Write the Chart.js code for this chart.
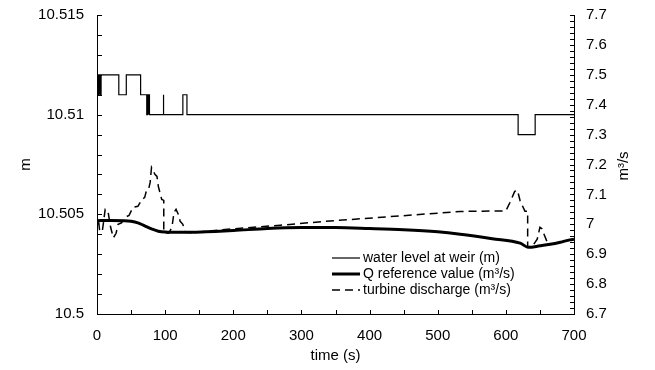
<!DOCTYPE html>
<html>
<head>
<meta charset="utf-8">
<script src="https://cdn.jsdelivr.net/npm/chart.js@4.4.1/dist/chart.umd.min.js"></script>
<style>
  html, body { margin: 0; padding: 0; background: #fff; }
</style>
</head>
<body>
<canvas id="chart" width="655" height="370"></canvas>
<script>
// water level at weir (m) - stepped, vertical jumps written as repeated times
const levelTime = [0, 0, 1, 1, 2, 2, 3, 3, 4, 4, 5, 5, 6, 6, 32, 32, 43, 43, 64, 64,
  73, 73, 74, 74, 75, 75, 76, 76, 77, 77, 97, 97, 98, 98, 126, 126, 132, 132, 618, 618, 643, 643, 700];
const levelValue = [10.511, 10.512, 10.512, 10.511, 10.511, 10.512, 10.512, 10.511, 10.511, 10.512,
  10.512, 10.511, 10.511, 10.512, 10.512, 10.511, 10.511, 10.512, 10.512, 10.511,
  10.511, 10.510, 10.510, 10.511, 10.511, 10.510, 10.510, 10.511, 10.511, 10.510,
  10.510, 10.511, 10.511, 10.510, 10.510, 10.511, 10.511, 10.510, 10.510, 10.509, 10.509, 10.510, 10.510];

// Q reference value (m3/s)
const qTime = [0, 20, 40, 50, 60, 70, 80, 90, 100, 120, 140, 160, 200, 250, 300, 350, 400, 450,
  500, 533, 580, 621, 633, 650, 665, 680, 694, 700];
const qValue = [7.012, 7.013, 7.012, 7.010, 7.005, 6.995, 6.985, 6.977, 6.974, 6.973, 6.973, 6.975,
  6.979, 6.986, 6.989, 6.989, 6.986, 6.982, 6.975, 6.967, 6.952, 6.937, 6.923, 6.928, 6.933, 6.940, 6.948, 6.950];

// turbine discharge (m3/s)
const turbTime = [0, 2, 4, 8, 12, 16, 20, 24, 28, 31, 36, 41, 47, 53, 60, 66, 70, 73, 76, 78,
  80, 85, 88, 90, 95, 98, 98, 105, 110, 113, 116, 120, 122, 126, 129, 140, 200, 269, 342, 445,
  533, 600, 606, 613, 617, 621, 628, 632, 632, 640, 646, 650, 653, 656, 662, 670, 680, 700];
const turbValue = [6.99, 7.02, 6.975, 6.98, 7.05, 7.045, 6.99, 6.955, 6.97, 7.0, 7.005, 7.023, 7.03, 7.057, 7.06, 7.083, 7.09, 7.117, 7.12, 7.14,
  7.19, 7.167, 7.16, 7.127, 7.083, 7.08, 6.973, 6.97, 6.99, 7.04, 7.05, 7.03, 7.01, 7.0, 6.973, 6.972, 6.985, 6.997, 7.011, 7.028,
  7.043, 7.045, 7.073, 7.11, 7.114, 7.078, 7.044, 7.044, 6.923, 6.93, 6.95, 6.99, 6.985, 6.967, 6.933, 6.935, 6.94, 6.95];

const seriesNames = ['water level at weir (m)', 'Q reference value (m³/s)', 'turbine discharge (m³/s)'];

// tick labels
const xTicks = [0, 100, 200, 300, 400, 500, 600, 700];
const leftTicks = [10.5, 10.505, 10.51, 10.515];
const rightTicks = [6.7, 6.8, 6.9, 7.0, 7.1, 7.2, 7.3, 7.4, 7.5, 7.6, 7.7];

const FONT = "'Liberation Sans', Arial, sans-serif";
Chart.defaults.color = '#000';
Chart.defaults.font.family = FONT;
Chart.defaults.font.size = 15;

const pts = (xs, ys) => xs.map((x, i) => ({ x: x, y: ys[i] }));

// inward minor ticks, legend inside the plot, right axis title
const extras = {
  id: 'extras',
  afterDatasetsDraw(chart) {
    const { ctx, chartArea: a, scales: { x, yL, yR } } = chart;
    ctx.save();
    ctx.strokeStyle = '#000';
    ctx.lineWidth = 1;
    ctx.beginPath();
    for (let t = 0; t <= 700; t += 50) {
      const px = Math.round(x.getPixelForValue(t)) + 0.5;
      ctx.moveTo(px, a.bottom); ctx.lineTo(px, a.bottom - 4);
    }
    for (let i = 0; i <= 15; i++) {
      const py = Math.round(yL.getPixelForValue(10.5 + i * 0.001)) + 0.5;
      ctx.moveTo(a.left, py); ctx.lineTo(a.left + 5, py);
    }
    for (let i = 0; i <= 50; i++) {
      const py = Math.round(yR.getPixelForValue(6.7 + i * 0.02)) + 0.5;
      ctx.moveTo(a.right, py); ctx.lineTo(a.right - 4, py);
    }
    ctx.stroke();

    // legend
    ctx.font = '14px ' + FONT;
    ctx.fillStyle = '#000';
    ctx.textBaseline = 'middle';
    ctx.textAlign = 'left';
    chart.data.datasets.forEach((ds, i) => {
      const y = 258 + i * 16;
      ctx.beginPath();
      ctx.lineWidth = ds.borderWidth;
      ctx.setLineDash(ds.borderDash || []);
      ctx.moveTo(332, y); ctx.lineTo(360, y);
      ctx.stroke();
      ctx.setLineDash([]);
      ctx.fillText(ds.label, 363, y);
    });

    // right axis title, reads bottom to top
    ctx.font = '15px ' + FONT;
    ctx.translate(624, 166);
    ctx.rotate(-Math.PI / 2);
    ctx.textAlign = 'center';
    ctx.fillText('m³/s', 0, 0);
    ctx.restore();
  }
};

new Chart(document.getElementById('chart'), {
  type: 'line',
  data: {
    datasets: [
      {
        label: seriesNames[0],
        data: pts(levelTime, levelValue),
        yAxisID: 'yL',
        borderColor: '#000',
        borderWidth: 1.2,
        pointRadius: 0,
        tension: 0
      },
      {
        label: seriesNames[1],
        data: pts(qTime, qValue),
        yAxisID: 'yR',
        borderColor: '#000',
        borderWidth: 3,
        pointRadius: 0,
        cubicInterpolationMode: 'monotone'
      },
      {
        label: seriesNames[2],
        data: pts(turbTime, turbValue),
        yAxisID: 'yR',
        borderColor: '#000',
        borderWidth: 1.5,
        borderDash: [8, 5],
        pointRadius: 0,
        tension: 0
      }
    ]
  },
  options: {
    responsive: false,
    animation: false,
    layout: { padding: { top: 15, left: 0, right: 0, bottom: 0 } },
    plugins: { legend: { display: false }, tooltip: { enabled: false } },
    scales: {
      x: {
        type: 'linear',
        min: 0, max: 700,
        afterBuildTicks: s => { s.ticks = xTicks.map(v => ({ value: v })); },
        afterFit: s => { s.height = 56; s.paddingLeft = 0; s.paddingRight = 0; },
        grid: { display: false, drawTicks: false },
        border: { display: true, color: '#000', width: 1 },
        ticks: { padding: 13, maxRotation: 0 },
        title: { display: true, text: 'time (s)', padding: { top: 0, bottom: 5 } }
      },
      yL: {
        type: 'linear',
        position: 'left',
        min: 10.5, max: 10.515,
        afterBuildTicks: s => { s.ticks = leftTicks.map(v => ({ value: v })); },
        afterFit: s => { s.width = 97; s.paddingTop = 0; s.paddingBottom = 0; },
        grid: { display: false, drawTicks: false },
        border: { display: true, color: '#000', width: 1 },
        ticks: { padding: 13, callback: v => String(+v.toFixed(3)) },
        title: { display: true, text: 'm', padding: { top: 17, bottom: 0 } }
      },
      yR: {
        type: 'linear',
        position: 'right',
        min: 6.7, max: 7.7,
        afterBuildTicks: s => { s.ticks = rightTicks.map(v => ({ value: v })); },
        afterFit: s => { s.width = 81; s.paddingTop = 0; s.paddingBottom = 0; },
        grid: { display: false, drawTicks: false },
        border: { display: true, color: '#000', width: 1 },
        ticks: { padding: 12, callback: v => String(+v.toFixed(1)) }
      }
    }
  },
  plugins: [extras]
});
</script>
</body>
</html>
